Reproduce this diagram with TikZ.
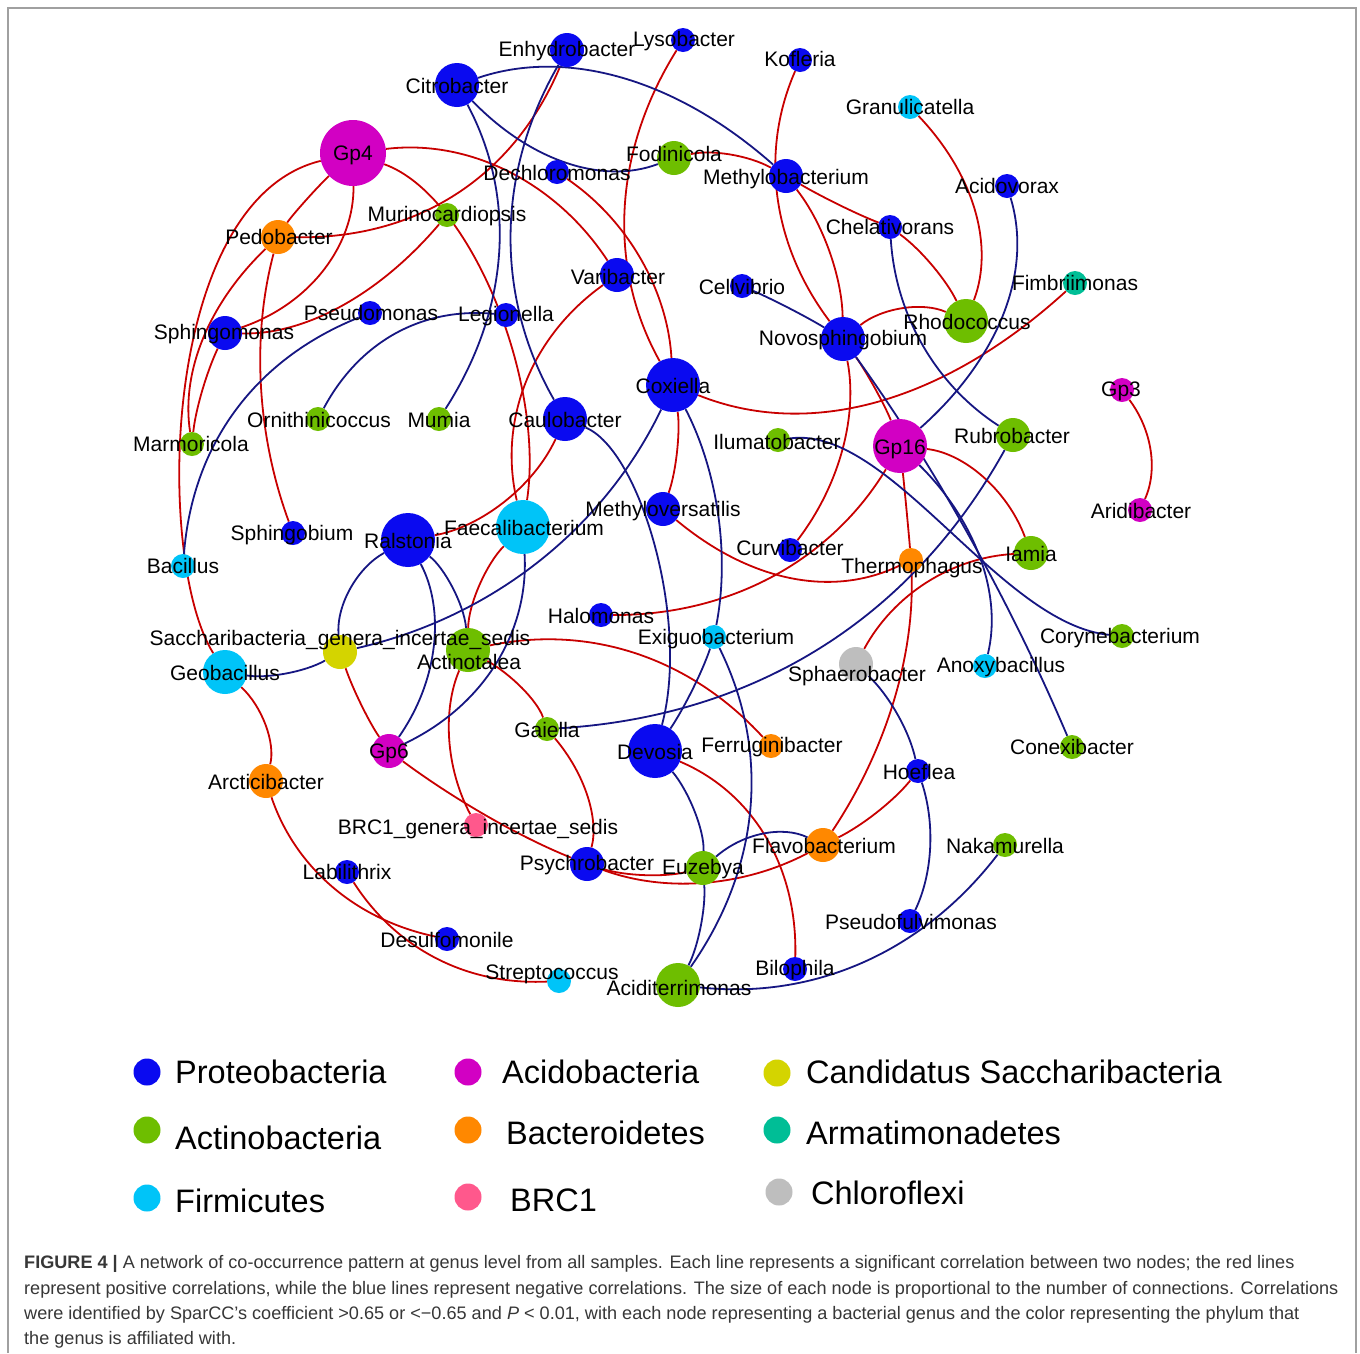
\documentclass[tikz,border=0pt]{standalone}
\usepackage{fontspec}
\setmainfont{Liberation Sans}
\usetikzlibrary{calc}
\definecolor{cPro}{RGB}{10,10,240}
\definecolor{cAcd}{RGB}{210,0,195}
\definecolor{cSac}{RGB}{212,212,0}
\definecolor{cAct}{RGB}{110,190,0}
\definecolor{cBac}{RGB}{255,136,0}
\definecolor{cArm}{RGB}{0,190,150}
\definecolor{cFir}{RGB}{0,196,248}
\definecolor{cBrc}{RGB}{255,88,140}
\definecolor{cChl}{RGB}{190,190,190}
\definecolor{ePos}{RGB}{200,0,0}
\definecolor{eNeg}{RGB}{22,22,130}
\definecolor{frameGray}{RGB}{160,160,160}
\definecolor{capGray}{RGB}{55,55,55}
\pgfdeclarelayer{bg}
\pgfsetlayers{bg,main}
\begin{document}
\begin{tikzpicture}[x=1pt,y=-1pt,
  gn/.style={circle,inner sep=0pt,draw=none},
  sA/.style={minimum size=24pt},
  sB/.style={minimum size=34pt},
  sC/.style={minimum size=44pt},
  sD/.style={minimum size=54pt},
  sE/.style={minimum size=66pt},
  pro/.style={fill=cPro}, acd/.style={fill=cAcd}, sac/.style={fill=cSac},
  act/.style={fill=cAct}, bac/.style={fill=cBac}, arm/.style={fill=cArm},
  fir/.style={fill=cFir}, brc/.style={fill=cBrc}, chl/.style={fill=cChl},
  lab/.style={font=\fontsize{21}{25}\selectfont, inner sep=0pt, text height=15pt, text depth=4pt, anchor=center, yshift=-1.5pt},
  legtxt/.style={font=\fontsize{32.5}{38}\selectfont, inner sep=0pt, anchor=base west},
  legdot/.style={circle,inner sep=0pt,minimum size=27pt},
  captxt/.style={font=\fontsize{18.1}{21}\selectfont, inner sep=0pt, anchor=base west, text=capGray},
  poscor/.style={draw=ePos, line width=1.8pt},
  negcor/.style={draw=eNeg, line width=1.8pt},
  via/.style={to path={.. controls ($1.3333*#1-0.3333*(\tikztotarget)$) and ($1.3333*#1-0.3333*(\tikztostart)$) .. (\tikztotarget)}}
]
\useasboundingbox (0,0) rectangle (1360,1353);
\coordinate (fBL) at (8,1353);
\coordinate (fTL) at (8,8);
\coordinate (fTR) at (1356,8);
\coordinate (fBR) at (1356,1353);
\draw[frameGray, line width=1.3pt] (fBL) -- (fTL) -- (fTR) -- (fBR);

% ---------- genus nodes ----------
\node[gn,sB,pro] (Enhy) at (567,50) {};
\node[gn,sA,pro] (Lyso) at (683,40) {};
\node[gn,sC,pro] (Citro) at (457,85) {};
\node[gn,sA,pro] (Kofl) at (800,60) {};
\node[gn,sA,fir] (Granu) at (910,107) {};
\node[gn,sE,acd] (Gp4) at (353,153) {};
\node[gn,sB,act] (Fodin) at (674,158) {};
\node[gn,sA,pro] (Dechl) at (557,172) {};
\node[gn,sB,pro] (Methylob) at (786,176) {};
\node[gn,sA,pro] (Acidov) at (1007,186) {};
\node[gn,sA,act] (Murino) at (447,215) {};
\node[gn,sB,bac] (Pedob) at (278,237) {};
\node[gn,sA,pro] (Chelat) at (890,227) {};
\node[gn,sB,pro] (Varib) at (617,275) {};
\node[gn,sA,pro] (Cellv) at (742,286) {};
\node[gn,sA,arm] (Fimbr) at (1075,283) {};
\node[gn,sA,pro] (Pseudom) at (370,313) {};
\node[gn,sA,pro] (Legion) at (506,315) {};
\node[gn,sB,pro] (Sphingom) at (225,333) {};
\node[gn,sC,act] (Rhodoc) at (966,321) {};
\node[gn,sC,pro] (Novos) at (843,339) {};
\node[gn,sD,pro] (Coxi) at (673,385) {};
\node[gn,sA,acd] (Gp3) at (1122,390) {};
\node[gn,sA,act] (Ornith) at (318,419) {};
\node[gn,sA,act] (Mumia) at (439,419) {};
\node[gn,sC,pro] (Caulob) at (565,419) {};
\node[gn,sA,act] (Marmor) at (192,444) {};
\node[gn,sA,act] (Iluma) at (778,440) {};
\node[gn,sD,acd] (Gp16) at (900,446) {};
\node[gn,sB,act] (Rubro) at (1013,435) {};
\node[gn,sA,acd] (Aridi) at (1140,510) {};
\node[gn,sB,pro] (Methylov) at (663,509) {};
\node[gn,sA,pro] (Sphingob) at (293,533) {};
\node[gn,sD,pro] (Ralst) at (408,540) {};
\node[gn,sD,fir] (Faecal) at (523,527) {};
\node[gn,sA,pro] (Curvib) at (790,550) {};
\node[gn,sA,bac] (Thermo) at (911,560) {};
\node[gn,sB,act] (Iamia) at (1031,553) {};
\node[gn,sA,fir] (Bacil) at (183,566) {};
\node[gn,sA,pro] (Halom) at (601,615) {};
\node[gn,sA,fir] (Exig) at (714,637) {};
\node[gn,sA,act] (Coryn) at (1122,636) {};
\node[gn,sB,sac] (Sacch) at (340,652) {};
\node[gn,sC,act] (Actino) at (468,650) {};
\node[gn,sC,fir] (Geob) at (225,672) {};
\node[gn,sB,chl] (Sphaer) at (856,664) {};
\node[gn,sA,fir] (Anoxy) at (985,666) {};
\node[gn,sA,act] (Gaiel) at (547,729) {};
\node[gn,sD,pro] (Devos) at (655,751) {};
\node[gn,sA,bac] (Ferrug) at (771,746) {};
\node[gn,sA,act] (Conex) at (1072,747) {};
\node[gn,sB,acd] (Gp6) at (389,751) {};
\node[gn,sA,pro] (Hoefl) at (918,771) {};
\node[gn,sB,bac] (Arctic) at (266,781) {};
\node[gn,sA,brc] (BRC) at (476,825) {};
\node[gn,sB,bac] (Flavo) at (823,845) {};
\node[gn,sA,act] (Nakam) at (1005,845) {};
\node[gn,sB,pro] (Psych) at (587,864) {};
\node[gn,sB,act] (Euzeb) at (703,868) {};
\node[gn,sA,pro] (Labil) at (347,872) {};
\node[gn,sA,pro] (Pseudof) at (910,921) {};
\node[gn,sA,pro] (Desulf) at (447,939) {};
\node[gn,sA,pro] (Bilop) at (795,969) {};
\node[gn,sA,fir] (Strep) at (559,981) {};
\node[gn,sC,act] (Acidit) at (678,985) {};

% ---------- edges ----------
\begin{pgfonlayer}{bg}
\fill[white] (0,0) rectangle (1360,1353);
% positive correlations
\draw[poscor] (Gp4) to[via={(504,173)}] (Varib);
\draw[poscor] (Gp4) .. controls (470,195) and (545,380) .. (Faecal);
\draw[poscor] (Varib) to[via={(528,385)}] (Faecal);
\draw[poscor] (Dechl) to[via={(640,262)}] (Coxi);
\draw[poscor] (Lyso) to[via={(627,212)}] (Coxi);
\draw[poscor] (Gp4) to[via={(322,266)}] (Sphingom);
\draw[poscor] (Gp4) to[via={(307,200)}] (Pedob);
\draw[poscor] (Pedob) to[via={(262,385)}] (Sphingob);
\draw[poscor] (Gp4) .. controls (160,200) and (155,560) .. (Geob);
\draw[poscor] (Pedob) to[via={(205,338)}] (Marmor);
\draw[poscor] (Sphingom) to[via={(203,390)}] (Marmor);
\draw[poscor] (Murino) to[via={(340,305)}] (Sphingom);
\draw[poscor] (Enhy) to[via={(455,192)}] (Pedob);
\draw[poscor] (Methylob) to[via={(730,156)}] (Fodin);
\draw[poscor] (Kofl) to[via={(780,200)}] (Novos);
\draw[poscor] (Methylob) to[via={(828,252)}] (Novos);
\draw[poscor] (Methylob) to[via={(840,205)}] (Chelat);
\draw[poscor] (Chelat) to[via={(933,268)}] (Rhodoc);
\draw[poscor] (Granu) to[via={(973,212)}] (Rhodoc);
\draw[poscor] (Novos) to[via={(903,311)}] (Rhodoc);
\draw[poscor] (Novos) to[via={(876,392)}] (Gp16);
\draw[poscor] (Novos) to[via={(841,448)}] (Curvib);
\draw[poscor] (Coxi) to[via={(874,400)}] (Fimbr);
\draw[poscor] (Coxi) to[via={(676,448)}] (Methylov);
\draw[poscor] (Methylov) to[via={(790,576)}] (Thermo);
\draw[poscor] (Gp16) to[via={(774,573)}] (Halom);
\draw[poscor] (Gp16) to[via={(980,478)}] (Iamia);
\draw[poscor] (Gp16) to[via={(906,505)}] (Thermo);
\draw[poscor] (Thermo) to[via={(892,703)}] (Flavo);
\draw[poscor] (Sphaer) to[via={(928,584)}] (Iamia);
\draw[poscor] (Flavo) to[via={(876,812)}] (Hoefl);
\draw[poscor] (Psych) to[via={(705,881)}] (Flavo);
\draw[poscor] (Psych) to[via={(645,874)}] (Euzeb);
\draw[poscor] (Gp6) to[via={(488,816)}] (Psych);
\draw[poscor] (Sacch) to[via={(362,705)}] (Gp6);
\draw[poscor] (Actino) to[via={(451,738)}] (BRC);
\draw[poscor] (Faecal) to[via={(482,585)}] (Actino);
\draw[poscor] (Actino) to[via={(520,688)}] (Gaiel);
\draw[poscor] (Gaiel) to[via={(586,797)}] (Psych);
\draw[poscor] (Actino) to[via={(634,655)}] (Ferrug);
\draw[poscor] (Caulob) to[via={(502,500)}] (Ralst);
\draw[poscor] (Devos) to[via={(762,836)}] (Bilop);
\draw[poscor] (Arctic) to[via={(333,885)}] (Desulf);
\draw[poscor] (Labil) to[via={(437,957)}] (Strep);
\draw[poscor] (Gp3) to[via={(1149,450)}] (Aridi);
\draw[poscor] (Geob) to[via={(263,725)}] (Arctic);
% negative correlations
\draw[negcor] (Citro) to[via={(621,80)}] (Methylob);
\draw[negcor] (Citro) to[via={(566,160)}] (Fodin);
\draw[negcor] (Citro) to[via={(497,252)}] (Mumia);
\draw[negcor] (Enhy) to[via={(513,235)}] (Caulob);
\draw[negcor] (Legion) to[via={(396,335)}] (Ornith);
\draw[negcor] (Pseudom) to[via={(237,411)}] (Bacil);
\draw[negcor] (Cellv) to[via={(792,310)}] (Novos);
\draw[negcor] (Chelat) to[via={(925,346)}] (Rubro);
\draw[negcor] (Acidov) to[via={(1000,316)}] (Gp16);
\draw[negcor] (Novos) to[via={(968,535)}] (Conex);
\draw[negcor] (Gp16) to[via={(977,556)}] (Anoxy);
\draw[negcor] (Iluma) .. controls (890,425) and (1000,625) .. (Coryn);
\draw[negcor] (Coxi) to[via={(538,559)}] (Sacch);
\draw[negcor] (Sacch) to[via={(285,672)}] (Geob);
\draw[negcor] (Ralst) to[via={(354,588)}] (Sacch);
\draw[negcor] (Ralst) to[via={(431,645)}] (Gp6);
\draw[negcor] (Ralst) to[via={(450,588)}] (Actino);
\draw[negcor] (Faecal) to[via={(494,661)}] (Gp6);
\draw[negcor] (Gaiel) to[via={(820,646)}] (Rubro);
\draw[negcor] (Caulob) .. controls (640,450) and (690,620) .. (Devos);
\draw[negcor] (Coxi) to[via={(716,511)}] (Exig);
\draw[negcor] (Exig) to[via={(690,693)}] (Devos);
\draw[negcor] (Exig) to[via={(748,811)}] (Acidit);
\draw[negcor] (Devos) to[via={(692,810)}] (Euzeb);
\draw[negcor] (Euzeb) to[via={(699,928)}] (Acidit);
\draw[negcor] (Euzeb) to[via={(763,836)}] (Flavo);
\draw[negcor] (Acidit) to[via={(861,961)}] (Nakam);
\draw[negcor] (Sphaer) to[via={(896,714)}] (Hoefl);
\draw[negcor] (Hoefl) to[via={(929,848)}] (Pseudof);
\end{pgfonlayer}

% ---------- labels ----------
\node[lab] (tEnhy) at (567,49) {Enhydrobacter};
\node[lab] (tLyso) at (684,39) {Lysobacter};
\node[lab] (tCitro) at (457,86) {Citrobacter};
\node[lab] (tKofl) at (800,59) {Kofleria};
\node[lab] (tGranu) at (910,107) {Granulicatella};
\node[lab] (tGp4) at (353,153) {Gp4};
\node[lab] (tFodin) at (674,154) {Fodinicola};
\node[lab] (tDechl) at (557,173) {Dechloromonas};
\node[lab] (tMethylob) at (786,177) {Methylobacterium};
\node[lab] (tAcidov) at (1007,186) {Acidovorax};
\node[lab] (tMurino) at (447,214) {Murinocardiopsis};
\node[lab] (tPedob) at (279,237) {Pedobacter};
\node[lab] (tChelat) at (890,227) {Chelativorans};
\node[lab] (tVarib) at (618,277) {Varibacter};
\node[lab] (tCellv) at (742,287) {Cellvibrio};
\node[lab] (tFimbr) at (1075,283) {Fimbriimonas};
\node[lab] (tPseudom) at (371,313) {Pseudomonas};
\node[lab] (tLegion) at (506,314) {Legionella};
\node[lab] (tSphingom) at (224,332) {Sphingomonas};
\node[lab] (tRhodoc) at (967,322) {Rhodococcus};
\node[lab] (tNovos) at (843,338) {Novosphingobium};
\node[lab] (tCoxi) at (673,386) {Coxiella};
\node[lab] (tGp3) at (1121,389) {Gp3};
\node[lab] (tOrnith) at (319,420) {Ornithinicoccus};
\node[lab] (tMumia) at (439,420) {Mumia};
\node[lab] (tCaulob) at (565,420) {Caulobacter};
\node[lab] (tMarmor) at (191,444) {Marmoricola};
\node[lab] (tIluma) at (777,442) {Ilumatobacter};
\node[lab] (tGp16) at (900,447) {Gp16};
\node[lab] (tRubro) at (1012,436) {Rubrobacter};
\node[lab] (tAridi) at (1141,511) {Aridibacter};
\node[lab] (tMethylov) at (663,509) {Methyloversatilis};
\node[lab] (tSphingob) at (292,533) {Sphingobium};
\node[lab] (tRalst) at (408,541) {Ralstonia};
\node[lab] (tFaecal) at (524,528) {Faecalibacterium};
\node[lab] (tCurvib) at (790,548) {Curvibacter};
\node[lab] (tThermo) at (912,566) {Thermophagus};
\node[lab] (tIamia) at (1031,554) {Iamia};
\node[lab] (tBacil) at (183,566) {Bacillus};
\node[lab] (tHalom) at (601,616) {Halomonas};
\node[lab] (tExig) at (716,637) {Exiguobacterium};
\node[lab] (tColryn) at (1120,636) {Corynebacterium};
\node[lab] (tSacch) at (340,638) {Saccharibacteria\_genera\_incertae\_sedis};
\node[lab] (tActino) at (469,662) {Actinotalea};
\node[lab] (tGeob) at (225,673) {Geobacillus};
\node[lab] (tSphaer) at (857,674) {Sphaerobacter};
\node[lab] (tAnoxy) at (1001,665) {Anoxybacillus};
\node[lab] (tGaiel) at (547,730) {Gaiella};
\node[lab] (tDevos) at (655,752) {Devosia};
\node[lab] (tFerrug) at (772,745) {Ferruginibacter};
\node[lab] (tConex) at (1072,747) {Conexibacter};
\node[lab] (tGp6) at (389,751) {Gp6};
\node[lab] (tHoefl) at (919,772) {Hoeflea};
\node[lab] (tArctic) at (266,782) {Arcticibacter};
\node[lab] (tBRC) at (478,827) {BRC1\_genera\_incertae\_sedis};
\node[lab] (tFlavo) at (824,846) {Flavobacterium};
\node[lab] (tNakam) at (1005,846) {Nakamurella};
\node[lab] (tPsych) at (587,863) {Psychrobacter};
\node[lab] (tEuzeb) at (703,867) {Euzebya};
\node[lab] (tLabil) at (347,872) {Labilithrix};
\node[lab] (tPseudof) at (911,922) {Pseudofulvimonas};
\node[lab] (tDesulf) at (447,940) {Desulfomonile};
\node[lab] (tBilop) at (795,968) {Bilophila};
\node[lab] (tStrep) at (552,972) {Streptococcus};
\node[lab] (tAcidit) at (679,988) {Aciditerrimonas};

% ---------- legend ----------
\node[legdot,fill=cPro] (dPro) at (147,1072) {};
\node[legtxt] (lPro) at (175,1083) {Proteobacteria};
\node[legdot,fill=cAcd] (dAcd) at (468,1072) {};
\node[legtxt] (lAcd) at (502,1083) {Acidobacteria};
\node[legdot,fill=cSac] (dSac) at (777,1073) {};
\node[legtxt] (lSac) at (806,1083) {Candidatus Saccharibacteria};
\node[legdot,fill=cAct] (dAct) at (147,1130) {};
\node[legtxt] (lAct) at (175,1149) {Actinobacteria};
\node[legdot,fill=cBac] (dBac) at (468,1130) {};
\node[legtxt] (lBac) at (506,1144) {Bacteroidetes};
\node[legdot,fill=cArm] (dArm) at (777,1130) {};
\node[legtxt] (lArm) at (806,1144) {Armatimonadetes};
\node[legdot,fill=cFir] (dFir) at (147,1198) {};
\node[legtxt] (lFir) at (175,1212) {Firmicutes};
\node[legdot,fill=cBrc] (dBrc) at (468,1197) {};
\node[legtxt] (lBrc) at (510,1211) {BRC1};
\node[legdot,fill=cChl] (dChl) at (779,1192) {};
\node[legtxt] (lChl) at (811,1204) {Chloroflexi};

% ---------- caption ----------
\node[captxt] (cap1) at (24,1268) {\textbf{FIGURE 4 |} A network of co-occurrence pattern at genus level from all samples. Each line represents a significant correlation between two nodes; the red lines};
\node[captxt] (cap2) at (24,1294) {represent positive correlations, while the blue lines represent negative correlations. The size of each node is proportional to the number of connections. Correlations};
\node[captxt] (cap3) at (24,1319) {were identified by SparCC’s coefficient >0.65 or <−0.65 and \textit{P} < 0.01, with each node representing a bacterial genus and the color representing the phylum that};
\node[captxt] (cap4) at (24,1344) {the genus is affiliated with.};
\end{tikzpicture}
\end{document}
